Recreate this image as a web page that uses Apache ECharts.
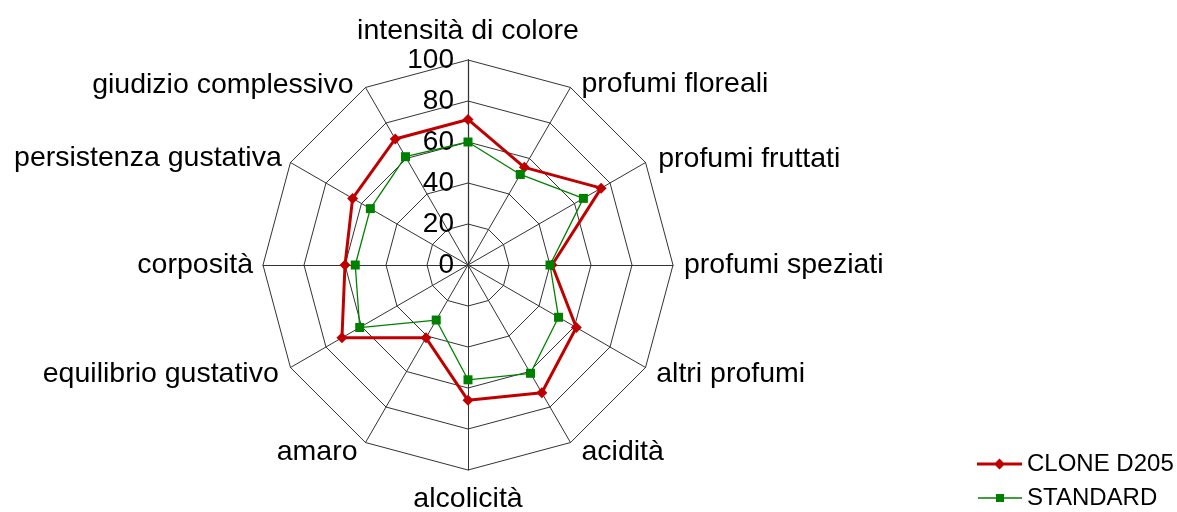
<!DOCTYPE html>
<html>
<head>
<meta charset="utf-8">
<script src="https://cdn.jsdelivr.net/npm/echarts@6/dist/echarts.min.js"></script>
<style>
  html, body { margin: 0; padding: 0; background: #fff; }
  #chart { width: 1177px; height: 512px; }
</style>
</head>
<body>
<div id="chart"></div>
<script>
// ── Data ──
const AXES = [
  'intensità di colore', 'profumi floreali', 'profumi fruttati', 'profumi speziati',
  'altri profumi', 'acidità', 'alcolicità', 'amaro',
  'equilibrio gustativo', 'corposità', 'persistenza gustativa', 'giudizio complessivo',
];
const CLONE_D205 = [71, 55, 75, 41, 61, 72, 66, 41, 71, 60, 65, 71];
const STANDARD = [60, 51, 65, 40, 51, 61, 56, 31, 61, 55, 55, 61];
const SCALE_MAX = 100;
const SCALE_STEP = 20;

const FONT = "'Liberation Sans', Arial, sans-serif";
const RED = '#c00000';
const GREEN = '#008000';
const CENTER = [468, 265];
const RADIUS = 205;

// radar runs counter-clockwise; the original runs clockwise from the top
const ORDER = AXES.map((_, i) => (AXES.length - i) % AXES.length);
const cw = arr => ORDER.map(i => arr[i]);

// small nudges for the axis names, clockwise from the top [t, r, b, l]
const NAME_PAD = [
  [0, 0, 4, 0], [10, 0, 0, 6], [4, 0, 0, 4], [0, 0, 0, 1],
  [4, 0, 0, 2], [2, 0, 0, 6], [5, 0, 0, 0], [2, 3, 0, 0],
  [4, 3, 0, 0], [0, 0, 0, 0], [2, 0, 0, 0], [12, 7, 0, 0],
];
const nameRich = {};
NAME_PAD.forEach((p, i) => {
  nameRich['n' + i] = { padding: p, fontFamily: FONT, fontSize: 28.5, color: '#000' };
});

// legend icons: line with its marker
const ICON_RED = 'path://M0,4 L45,4 L45,7 L0,7 Z M22.5,0 L28,5.5 L22.5,11 L17,5.5 Z';
const ICON_GREEN = 'path://M0,3.3 L44,3.3 L44,4.7 L0,4.7 Z M18,0 L26,0 L26,8 L18,8 Z';

const legendText = { fontFamily: FONT, fontSize: 24, color: '#000' };

const chart = echarts.init(document.getElementById('chart'));

chart.setOption({
  backgroundColor: '#fff',
  animation: false,
  legend: [
    {
      left: 972, top: 447,
      itemWidth: 45, itemHeight: 11,
      textStyle: legendText,
      data: [{ name: 'CLONE D205', icon: ICON_RED }],
    },
    {
      left: 973, top: 481,
      itemWidth: 44, itemHeight: 8,
      textStyle: legendText,
      data: [{ name: 'STANDARD', icon: ICON_GREEN }],
    },
  ],
  radar: {
    center: CENTER,
    radius: RADIUS,
    startAngle: 90,
    shape: 'polygon',
    splitNumber: SCALE_MAX / SCALE_STEP,
    indicator: cw(AXES).map(name => ({ name, min: 0, max: SCALE_MAX })),
    axisName: {
      color: '#000', fontFamily: FONT, fontSize: 28.5,
      formatter: name => `{n${AXES.indexOf(name)}|${name}}`,
      rich: nameRich,
    },
    nameGap: 10,
    axisLine: { lineStyle: { color: '#333', width: 1 } },
    splitLine: { lineStyle: { color: '#333', width: 1 } },
    splitArea: { show: false },
    axisTick: { show: false },
    axisLabel: { show: false },
  },
  // overlay polar just for the value scale on the vertical axis
  polar: { center: CENTER, radius: RADIUS },
  angleAxis: {
    startAngle: 90, min: 0, max: 360,
    axisLine: { show: false }, axisTick: { show: false },
    axisLabel: { show: false }, splitLine: { show: false },
  },
  radiusAxis: {
    min: 0, max: SCALE_MAX, interval: SCALE_STEP,
    axisLine: { show: true, lineStyle: { color: '#000', width: 1.2 } },
    axisTick: { show: false },
    splitLine: { show: false },
    axisLabel: {
      show: true, fontFamily: FONT, fontSize: 28, color: '#000', margin: 14,
      verticalAlign: 'middle', padding: [0, 0, 4, 0],
    },
  },
  series: [{
    type: 'radar',
    data: [
      {
        name: 'CLONE D205', value: cw(CLONE_D205),
        symbol: 'diamond', symbolSize: 11,
        lineStyle: { color: RED, width: 3 },
        itemStyle: { color: RED },
      },
      {
        name: 'STANDARD', value: cw(STANDARD),
        symbol: 'rect', symbolSize: 9,
        lineStyle: { color: GREEN, width: 1.3 },
        itemStyle: { color: GREEN },
      },
    ],
  }],
});
</script>
</body>
</html>
